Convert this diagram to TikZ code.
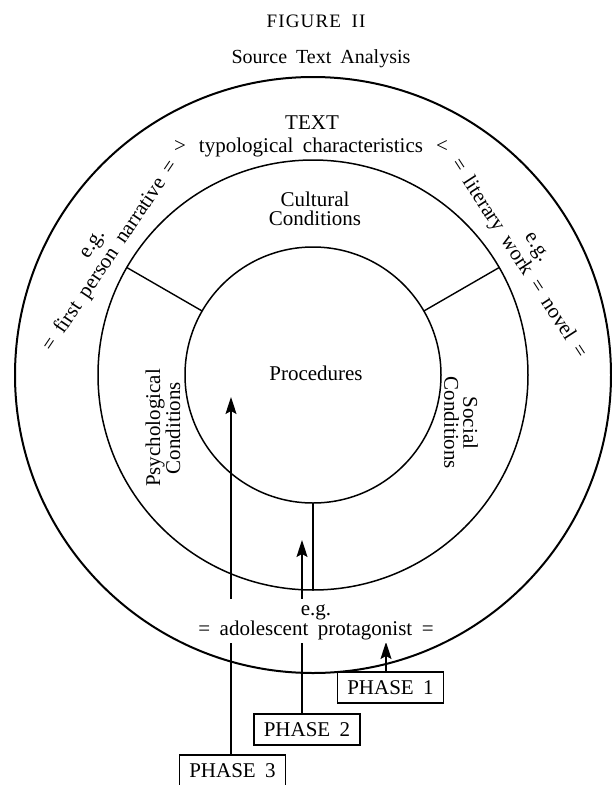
\documentclass[tikz,border=0pt]{standalone}
\usepackage{fontspec}
\setmainfont{Liberation Serif}[WordSpace=1.8]
\usetikzlibrary{arrows.meta}
\begin{document}
\begin{tikzpicture}[x=1pt,y=-1pt,
  lbl/.style={font=\fontsize{21}{19}\selectfont, align=center, inner sep=0pt},
  sidelbl/.style={font=\fontsize{21}{22}\selectfont, align=center, inner sep=0pt},
  ring/.style={circle, draw, line width=1.5pt, inner sep=0pt, outer sep=0pt},
  phasebox/.style={draw, line width=1.3pt, minimum height=31pt, minimum width=106pt, inner sep=0pt, font=\fontsize{21}{21}\selectfont},
  arr/.style={line width=1.3pt, -{Stealth[length=17pt,width=11pt,inset=3pt]}},
  divider/.style={line width=1.4pt}]
\useasboundingbox (0,0) rectangle (611,785);
\fill[white] (0,0) rectangle (611,785);
\coordinate (c) at (313,375);
% phase boxes
\node[phasebox] (p1) at (390.5,687.5) {PHASE 1};
\node[phasebox] (p2) at (307,729.5) {PHASE 2};
\node[phasebox] (p3) at (232.5,770.5) {PHASE 3};
\coordinate (t1) at (386,642);
\coordinate (t2) at (302,540);
\coordinate (t3) at (231,397);
\draw[arr] (t1 |- p1.north) -- (t1);
\draw[arr] (t2 |- p2.north) -- (t2);
\draw[arr] (t3 |- p3.north) -- (t3);
% bottom example label (covers the arrow shafts)
\node[lbl, fill=white, inner xsep=2pt, inner ysep=2.5pt, anchor=north, font=\fontsize{21}{20}\selectfont] (ego) at (316,599) {\vphantom{Ap}e.g.\\= adolescent protagonist =\vphantom{Ap}};
% rings
\node[ring, line width=2pt, minimum size=596pt] (outer) at (c) {};
\node[ring, minimum size=430pt] (mid) at (c) {};
\node[ring, minimum size=256pt] (inner) at (c) {};
\draw[divider] (inner.150) -- (mid.150);
\draw[divider] (inner.30) -- (mid.30);
\draw[divider] (inner.270) -- (mid.270);
% titles
\node[anchor=base, inner sep=0pt, font=\fontsize{19}{19}\selectfont\addfontfeature{LetterSpace=6}] (fig) at (316,27) {FIGURE II};
\node[anchor=base, inner sep=0pt, font=\fontsize{20}{20}\selectfont] (sta) at (321,63) {Source Text Analysis};
% labels
\node[lbl, anchor=base] (txt) at (312,129) {TEXT};
\node[lbl, anchor=base] (typ) at (311,152) {>\hspace{13pt}typological characteristics\hspace{13pt}<};
\node[lbl] (cul) at (315,209) {Cultural\\Conditions};
\node[lbl, anchor=base] (proc) at (316,380) {Procedures};
\node[lbl, rotate=90] (psy) at (163,428) {Psychological\\Conditions};
\node[lbl, rotate=-90] (soc) at (461,423) {Social\\Conditions};
\node[sidelbl, rotate=56] (ltx) at (103,251) {e.g.\\= first person narrative =};
\node[sidelbl, rotate=-57] (rtx) at (526,254) {e.g.\\= literary work = novel =};
\end{tikzpicture}
\end{document}
